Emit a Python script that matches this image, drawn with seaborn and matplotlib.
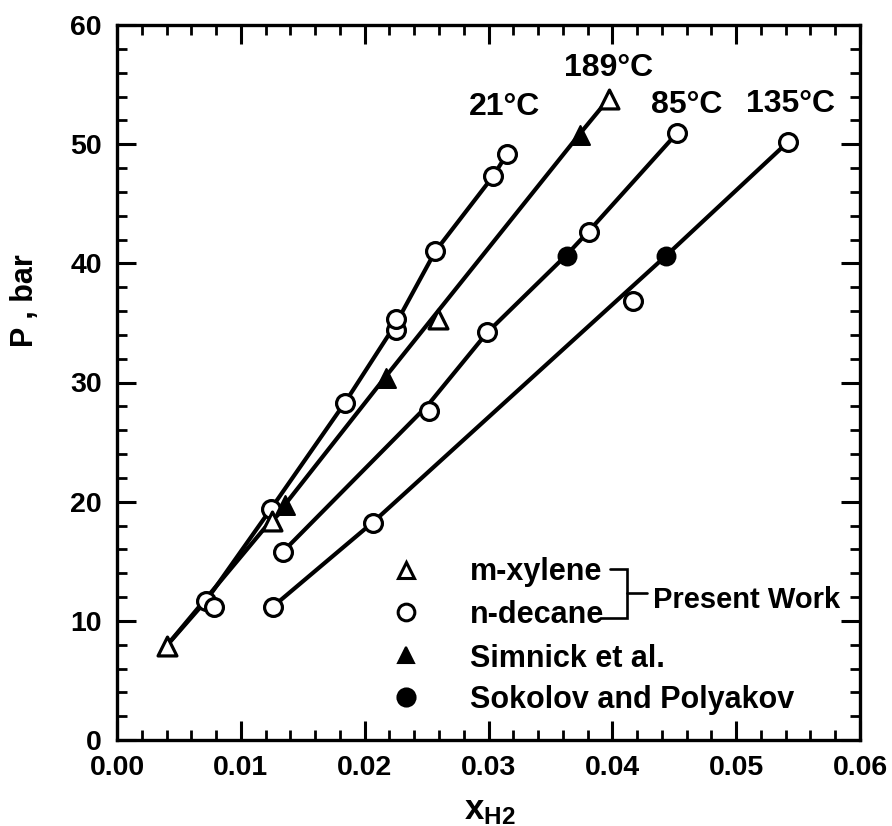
import matplotlib
matplotlib.use("Agg")
import matplotlib.pyplot as plt
import seaborn as sns
from matplotlib.ticker import MultipleLocator, FormatStrFormatter

sns.set_theme(style="white")
plt.rcParams['font.family'] = ['Liberation Sans', 'DejaVu Sans']
plt.rcParams['font.weight'] = 'bold'
plt.rcParams['text.color'] = 'black'
plt.rcParams['axes.labelcolor'] = 'black'
plt.rcParams['xtick.color'] = 'black'
plt.rcParams['ytick.color'] = 'black'
plt.rcParams['mathtext.fontset'] = 'custom'
plt.rcParams['mathtext.bf'] = 'Liberation Sans:bold'
plt.rcParams['mathtext.rm'] = 'Liberation Sans:bold'
plt.rcParams['mathtext.it'] = 'Liberation Sans:bold'

# ---- data ----
# model curves
line_21_x = [0.0040, 0.0072, 0.0124, 0.0184, 0.0225, 0.0257, 0.0304, 0.0315]
line_21_y = [7.9, 11.7, 19.35, 28.3, 34.9, 41.0, 47.35, 49.2]
line_189_x = [0.0040, 0.0125, 0.0136, 0.0217, 0.0374, 0.0397]
line_189_y = [7.9, 18.5, 19.8, 30.5, 50.9, 53.8]
line_85_x = [0.0134, 0.0251, 0.0299, 0.0363, 0.0381, 0.0452]
line_85_y = [15.8, 28.1, 34.2, 40.7, 42.7, 50.9]
line_135_x = [0.0126, 0.0207, 0.0443, 0.0542]
line_135_y = [11.2, 18.3, 40.6, 50.2]

# m-xylene (present work, open triangles)
mxylene_x = [0.0040, 0.0125, 0.0259, 0.0397]
mxylene_y = [7.9, 18.4, 35.3, 53.8]
# n-decane (present work, open circles)
ndecane_x = [0.0072, 0.0078, 0.0124, 0.0184, 0.0225, 0.0225, 0.0257, 0.0304, 0.0315,
             0.0134, 0.0252, 0.0299, 0.0381, 0.0452,
             0.0126, 0.0207, 0.0417, 0.0542]
ndecane_y = [11.7, 11.2, 19.35, 28.3, 34.4, 35.3, 41.0, 47.35, 49.2,
             15.8, 27.6, 34.25, 42.6, 50.9,
             11.2, 18.25, 36.8, 50.2]
# Simnick et al. (filled triangles)
simnick_x = [0.0136, 0.0217, 0.0374]
simnick_y = [19.7, 30.4, 50.8]
# Sokolov and Polyakov (filled circles)
sokolov_x = [0.0363, 0.0443]
sokolov_y = [40.6, 40.6]

temp_labels = ["21\u00b0C", "189\u00b0C", "85\u00b0C", "135\u00b0C"]
temp_label_x = [0.0313, 0.0397, 0.0460, 0.0544]
temp_label_y = [53.1, 56.4, 53.3, 53.4]

legend_labels = ["m-xylene", "n-decane", "Simnick et al.", "Sokolov and Polyakov"]

# ---- figure ----
fig = plt.figure(figsize=(8.92, 8.26), dpi=100)
ax = fig.add_axes([117/892, 86/826, 743/892, 715/826])

lw = 3.0
for lx, ly in [(line_21_x, line_21_y), (line_189_x, line_189_y),
               (line_85_x, line_85_y), (line_135_x, line_135_y)]:
    sns.lineplot(x=lx, y=ly, ax=ax, color='black', linewidth=lw, sort=False,
                 estimator=None, zorder=2)

sns.scatterplot(x=ndecane_x, y=ndecane_y, ax=ax, marker='o', s=165,
                color='white', edgecolor='black', linewidth=2.3, zorder=3)
sns.scatterplot(x=mxylene_x, y=mxylene_y, ax=ax, marker='^', s=185,
                color='white', edgecolor='black', linewidth=2.3, zorder=3)
sns.scatterplot(x=simnick_x, y=simnick_y, ax=ax, marker='^', s=185,
                color='black', edgecolor='black', linewidth=1.5, zorder=3)
sns.scatterplot(x=sokolov_x, y=sokolov_y, ax=ax, marker='o', s=165,
                color='black', edgecolor='black', linewidth=1.5, zorder=3)

for t, tx, ty in zip(temp_labels, temp_label_x, temp_label_y):
    ax.text(tx, ty, t, ha='center', va='center', fontsize=23, fontweight='bold',
            color='black')

# axes
ax.set_xlim(0, 0.06)
ax.set_ylim(0, 60)
ax.xaxis.set_major_locator(MultipleLocator(0.01))
ax.xaxis.set_minor_locator(MultipleLocator(0.002))
ax.yaxis.set_major_locator(MultipleLocator(10))
ax.yaxis.set_minor_locator(MultipleLocator(2))
ax.xaxis.set_major_formatter(FormatStrFormatter('%.2f'))
ax.tick_params(which='both', direction='in', top=True, right=True,
               bottom=True, left=True, colors='black', labelcolor='black')
ax.tick_params(which='major', length=14, width=2.2, labelsize=20.5, pad=11)
ax.tick_params(which='minor', length=7, width=2.0)
for lab in ax.get_xticklabels() + ax.get_yticklabels():
    lab.set_fontweight('bold')
for sp in ax.spines.values():
    sp.set_color('black')
    sp.set_linewidth(2.4)
ax.grid(False)

ax.set_ylabel("P , bar", fontsize=22, fontweight='bold', color='black')
ax.yaxis.set_label_coords(-0.103, 0.615)
ax.set_xlabel(r"$\mathbf{x}_{\mathbf{H2}}$", fontsize=25, color='black')
ax.xaxis.set_label_coords(0.502, -0.075)

# legend (manual, in axes fraction)
T = ax.transAxes
mk_x = 0.389
txt_x = 0.475
mk_y = [0.238, 0.179, 0.119, 0.060]
txt_y = [0.224, 0.164, 0.102, 0.045]
ax.plot([mk_x], [mk_y[0]], marker='^', ms=11, mfc='white', mec='black', mew=2.2,
        transform=T, clip_on=False, ls='none')
ax.plot([mk_x], [mk_y[1]], marker='o', ms=12, mfc='white', mec='black', mew=2.2,
        transform=T, clip_on=False, ls='none')
ax.plot([mk_x], [mk_y[2]], marker='^', ms=12, mfc='black', mec='black', mew=1.5,
        transform=T, clip_on=False, ls='none')
ax.plot([mk_x], [mk_y[3]], marker='o', ms=13, mfc='black', mec='black', mew=1.5,
        transform=T, clip_on=False, ls='none')
for lab, ty in zip(legend_labels, txt_y):
    ax.text(txt_x, ty, lab, transform=T, ha='left', va='baseline',
            fontsize=22, fontweight='bold', color='black')

# bracket for "Present Work"
ax.plot([0.664, 0.686, 0.686, 0.650], [0.239, 0.239, 0.171, 0.171],
        color='black', lw=1.9, transform=T, solid_joinstyle='miter')
ax.plot([0.686, 0.713], [0.206, 0.206], color='black', lw=1.9, transform=T)
ax.text(0.721, 0.185, "Present Work", transform=T, ha='left', va='baseline',
        fontsize=21, fontweight='bold', color='black')

fig.savefig("out.png", dpi=100)
